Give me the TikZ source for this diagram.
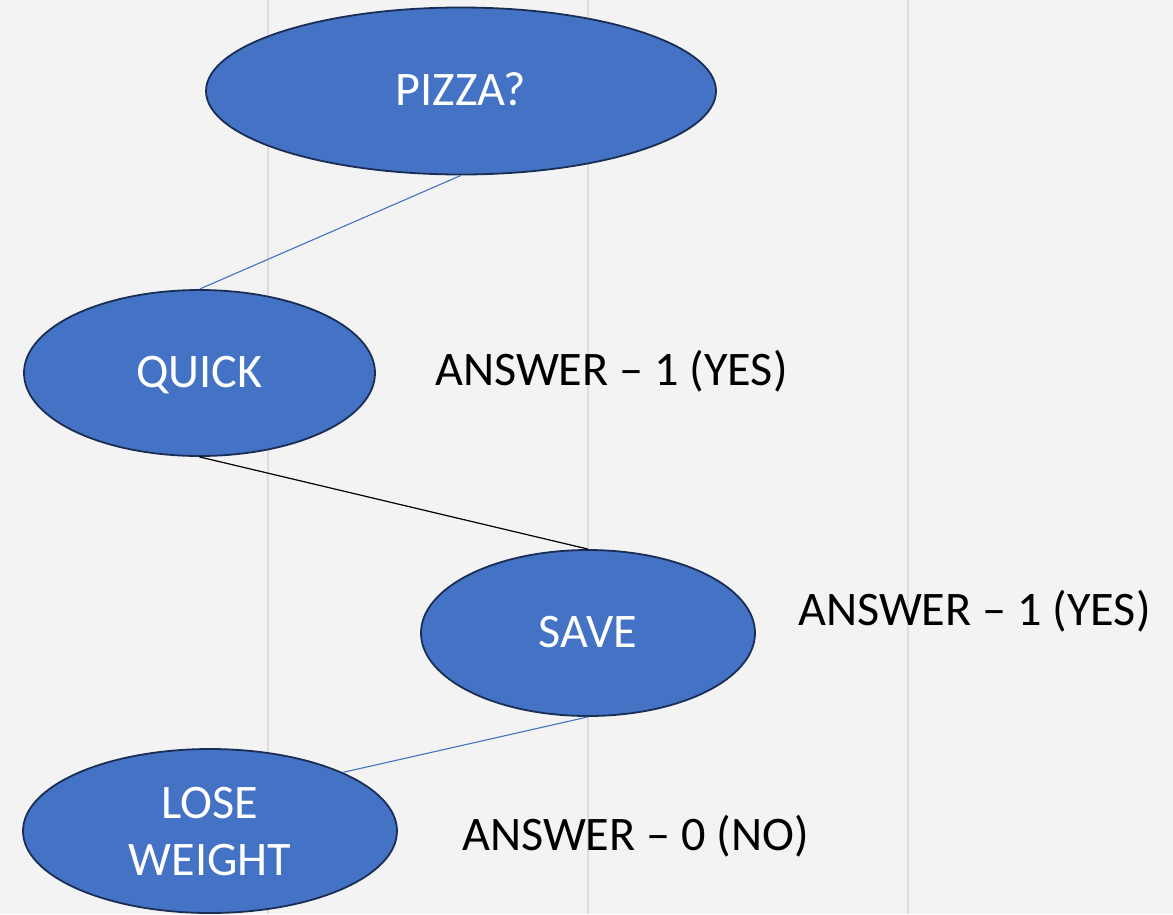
\documentclass[tikz,border=0pt]{standalone}
\usepackage{fontspec}
\setmainfont{Carlito}
\usetikzlibrary{shapes.geometric}
\definecolor{bg}{HTML}{F3F3F3}
\definecolor{grid}{HTML}{DCDCDC}
\definecolor{fillblue}{HTML}{4472C4}
\definecolor{edgenavy}{HTML}{1A2E55}
\tikzset{
  bubble/.style={ellipse, draw=edgenavy, line width=1.8pt, fill=fillblue, text=white,
    inner sep=0pt, align=center, font=\fontsize{48.2}{57}\selectfont},
  oneline/.style={text height=29pt, text depth=0pt},
  answer/.style={anchor=base west, inner sep=0pt, text=black, font=\fontsize{48.2}{57}\selectfont},
  bluelink/.style={draw=fillblue, line width=1.1pt},
  blacklink/.style={draw=black, line width=1.2pt},
  gridline/.style={draw=grid, line width=2pt}
}
\begin{document}
\begin{tikzpicture}[x=1pt,y=-1pt]
\fill[bg] (0,0) rectangle (1173,914);
\useasboundingbox (0,0) rectangle (1173,914);
\coordinate (g1t) at (268,0); \coordinate (g1b) at (268,914);
\coordinate (g2t) at (588,0); \coordinate (g2b) at (588,914);
\coordinate (g3t) at (908,0); \coordinate (g3b) at (908,914);
\draw[gridline] (g1t) -- (g1b);
\draw[gridline] (g2t) -- (g2b);
\draw[gridline] (g3t) -- (g3b);

\node[bubble, oneline, minimum width=510pt, minimum height=167pt] (pizza) at (461,91) {PIZZA?};
\node[bubble, oneline, minimum width=351pt, minimum height=166pt] (quick) at (199.5,373) {QUICK};
\node[bubble, oneline, minimum width=334pt, minimum height=166pt] (save) at (588,633) {SAVE};
\node[bubble, text depth=0pt, minimum width=374pt, minimum height=164pt] (lose) at (210,831) {LOSE\\WEIGHT};

\draw[bluelink] (pizza.south) -- (quick.north);
\draw[blacklink] (quick.south) -- (save.north);
\draw[bluelink] (save.south) -- (lose.north east);

\node[answer] (a1) at (435,385) {ANSWER – 1 (YES)};
\node[answer] (a2) at (798,625) {ANSWER – 1 (YES)};
\node[answer] (a3) at (462,850) {ANSWER – 0 (NO)};
\end{tikzpicture}
\end{document}
